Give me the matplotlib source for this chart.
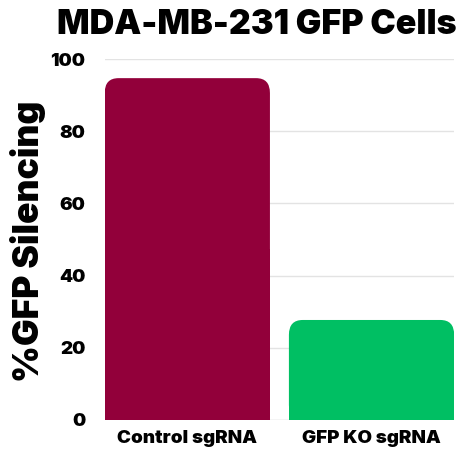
import matplotlib
matplotlib.use("Agg")
import matplotlib.pyplot as plt
from matplotlib.patches import FancyBboxPatch, Rectangle

categories = ["Control sgRNA", "GFP KO sgRNA"]
values = [94.7, 27.7]
colors = ["#92003A", "#00BF63"]
yticks = [0, 20, 40, 60, 80, 100]

plt.rcParams['font.family'] = ['Inter', 'DejaVu Sans']

fig = plt.figure(figsize=(4.72, 4.54), dpi=100)
ax = fig.add_axes([0.222, 0.075, 0.740, 0.795])

bars = ax.bar(range(len(categories)), values, width=0.897, color=colors, zorder=2)
ax.set_xlim(-0.448, 1.448)
ax.set_ylim(0, 100)

# rounded top corners
for b, c in zip(bars, colors):
    x, y, w, h = b.get_x(), b.get_y(), b.get_width(), b.get_height()
    b.set_visible(False)
    r = 0.075
    asp = 4.1 / 0.075
    p = FancyBboxPatch((x + r, y + r * asp), w - 2 * r, h - 2 * r * asp,
                       boxstyle=f"round,pad={r}", mutation_aspect=asp,
                       facecolor=c, edgecolor='none', zorder=2)
    ax.add_patch(p)
    ax.add_patch(Rectangle((x, y), w, h / 2, facecolor=c, edgecolor='none', zorder=2))

ax.set_yticks(yticks)
ax.set_yticklabels([str(t) for t in yticks], fontsize=13.5, fontweight='black')
ax.set_xticks(range(len(categories)))
ax.set_xticklabels(categories, fontsize=13.5, fontweight='black')
ax.tick_params(axis='both', length=0)
ax.tick_params(axis='y', pad=14)
ax.tick_params(axis='x', pad=7)
ax.grid(axis='y', color='#e3e3e3', linewidth=1, zorder=0)
for s in ax.spines.values():
    s.set_visible(False)
ax.axhline(0, color='#e3e3e3', linewidth=1, zorder=1)

fig.text(28 / 472, 1 - 241 / 454, "%GFP Silencing", fontsize=25.5, fontweight='black',
         rotation=90, ha='center', va='center')
fig.text(0.545, 0.946, "MDA-MB-231 GFP Cells", fontsize=24.5, fontweight='black',
         ha='center', va='center')

fig.savefig("out.png", dpi=100)
